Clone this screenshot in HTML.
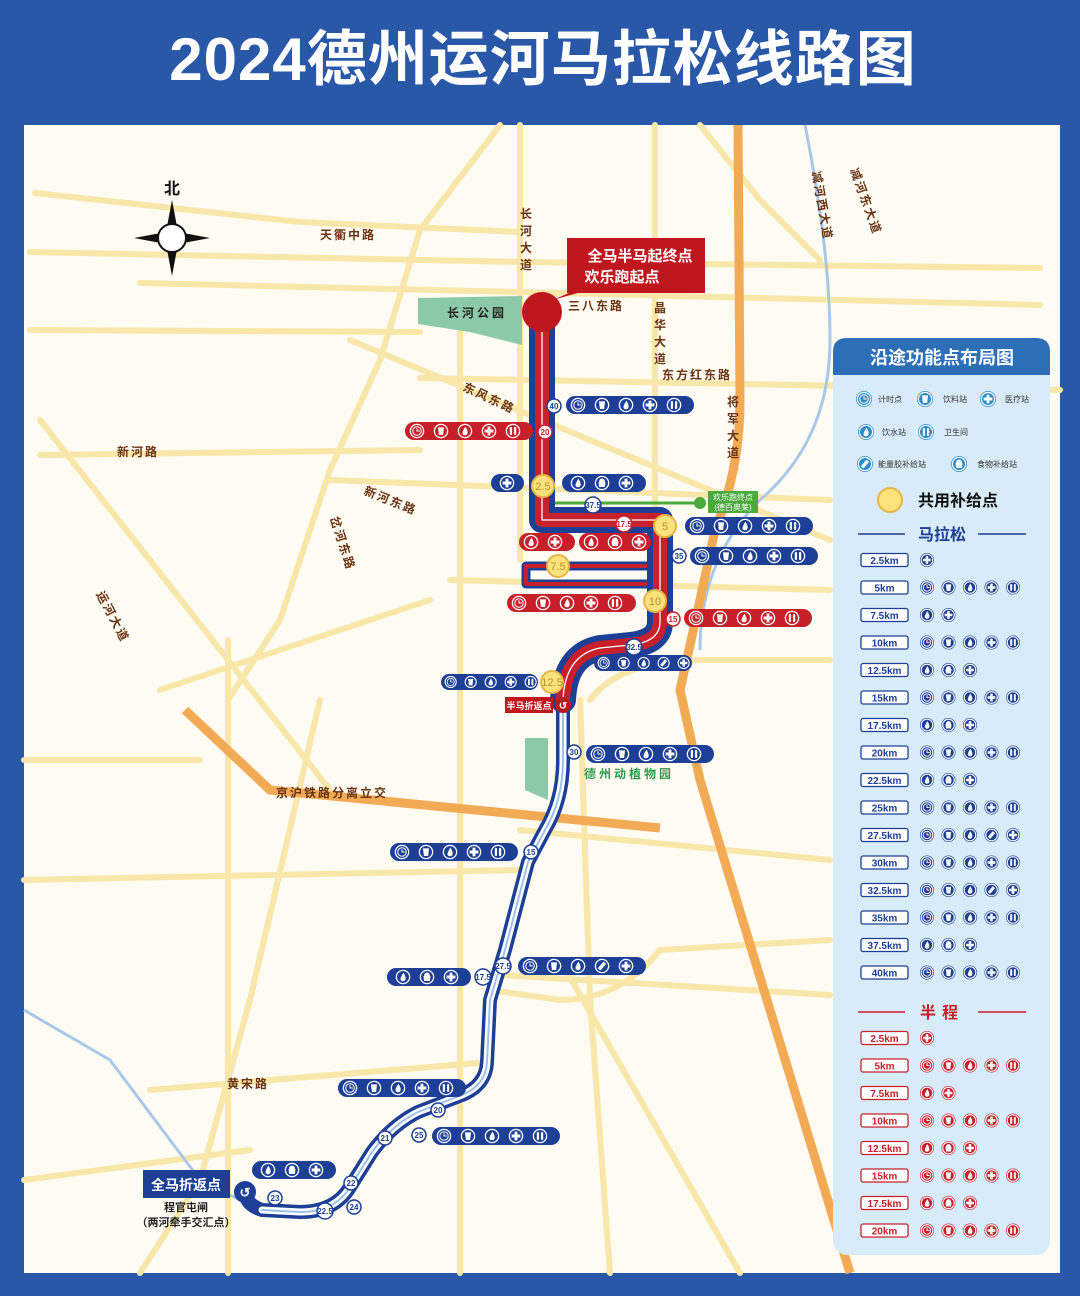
<!DOCTYPE html>
<html><head><meta charset="utf-8"><style>
html,body{margin:0;padding:0;background:#2a58a8;}
svg{display:block}
text{font-family:"Liberation Sans","Noto Sans CJK SC",sans-serif;}
.rd{fill:#6a3312;font-weight:bold;font-size:12px;letter-spacing:2px}
.km{font-size:8px;fill:#1d3f95;text-anchor:middle;font-weight:bold}
.lk{font-size:10px;text-anchor:middle;font-weight:bold}
</style></head><body>
<svg width="1080" height="1296" viewBox="0 0 1080 1296" xmlns="http://www.w3.org/2000/svg">
<defs>
<symbol id="clock" viewBox="-10 -10 20 20"><circle r="8.3" fill="none" stroke="#fff" stroke-width="1.6"/><circle r="5.3" fill="none" stroke="#fff" stroke-width="1.3"/><path d="M0,-3.5V0H3.5" fill="none" stroke="#fff" stroke-width="1.3"/></symbol>
<symbol id="cup" viewBox="-10 -10 20 20"><circle r="8.3" fill="none" stroke="#fff" stroke-width="1.6"/><path d="M-3.8,-4.5H3.8L2.6,5H-2.6Z" fill="#fff"/></symbol>
<symbol id="drop" viewBox="-10 -10 20 20"><circle r="8.3" fill="none" stroke="#fff" stroke-width="1.6"/><path d="M0.5,-5.5Q4,0 3.2,2.8A3.3,3.3 0 0 1 -3.2,2.8Q-3,0 0.5,-5.5Z" fill="#fff"/></symbol>
<symbol id="plus" viewBox="-10 -10 20 20"><circle r="8.3" fill="none" stroke="#fff" stroke-width="1.6"/><path d="M-1.8,-5.5H1.8V-1.8H5.5V1.8H1.8V5.5H-1.8V1.8H-5.5V-1.8H-1.8Z" fill="#fff"/></symbol>
<symbol id="wc" viewBox="-10 -10 20 20"><circle r="8.3" fill="none" stroke="#fff" stroke-width="1.6"/><rect x="-4" y="-5" width="2.8" height="10" rx="1.2" fill="#fff"/><rect x="1.2" y="-5" width="2.8" height="10" rx="1.2" fill="#fff"/></symbol>
<symbol id="food" viewBox="-10 -10 20 20"><circle r="8.3" fill="none" stroke="#fff" stroke-width="1.6"/><path d="M-4.5,-1H4.5L3.5,5H-3.5Z" fill="#fff"/><circle cy="-2" r="3.6" fill="#fff"/></symbol>
<symbol id="gel" viewBox="-10 -10 20 20"><circle r="8.3" fill="none" stroke="#fff" stroke-width="1.6"/><rect x="-2.2" y="-5.5" width="4.4" height="11" rx="1" fill="#fff" transform="rotate(40)"/></symbol>
<symbol id="PF" viewBox="0 0 120 16"><use href="#clock" x="0" width="16" height="16"/><use href="#cup" x="24" width="16" height="16"/><use href="#drop" x="48" width="16" height="16"/><use href="#plus" x="72" width="16" height="16"/><use href="#wc" x="96" width="16" height="16"/></symbol>
<symbol id="PG" viewBox="0 0 120 16"><use href="#clock" x="0" width="16" height="16"/><use href="#cup" x="24" width="16" height="16"/><use href="#drop" x="48" width="16" height="16"/><use href="#gel" x="72" width="16" height="16"/><use href="#plus" x="96" width="16" height="16"/></symbol>
<symbol id="PB" viewBox="0 0 120 16"><use href="#drop" x="0" width="16" height="16"/><use href="#food" x="24" width="16" height="16"/><use href="#plus" x="48" width="16" height="16"/></symbol>
<symbol id="PA" viewBox="0 0 120 16"><use href="#drop" x="0" width="16" height="16"/><use href="#plus" x="24" width="16" height="16"/></symbol>
<symbol id="LF" viewBox="0 0 102 16"><g fill="currentColor"><circle cx="7" cy="8" r="7"/><circle cx="28.5" cy="8" r="7"/><circle cx="50" cy="8" r="7"/><circle cx="71.5" cy="8" r="7"/><circle cx="93" cy="8" r="7"/></g><use href="#clock" x="0" y="1" width="14" height="14"/><use href="#cup" x="21.5" y="1" width="14" height="14"/><use href="#drop" x="43" y="1" width="14" height="14"/><use href="#plus" x="64.5" y="1" width="14" height="14"/><use href="#wc" x="86" y="1" width="14" height="14"/></symbol>
<symbol id="LG" viewBox="0 0 102 16"><g fill="currentColor"><circle cx="7" cy="8" r="7"/><circle cx="28.5" cy="8" r="7"/><circle cx="50" cy="8" r="7"/><circle cx="71.5" cy="8" r="7"/><circle cx="93" cy="8" r="7"/></g><use href="#clock" x="0" y="1" width="14" height="14"/><use href="#cup" x="21.5" y="1" width="14" height="14"/><use href="#drop" x="43" y="1" width="14" height="14"/><use href="#gel" x="64.5" y="1" width="14" height="14"/><use href="#plus" x="86" y="1" width="14" height="14"/></symbol>
<symbol id="LB" viewBox="0 0 102 16"><g fill="currentColor"><circle cx="7" cy="8" r="7"/><circle cx="28.5" cy="8" r="7"/><circle cx="50" cy="8" r="7"/></g><use href="#drop" x="0" y="1" width="14" height="14"/><use href="#food" x="21.5" y="1" width="14" height="14"/><use href="#plus" x="43" y="1" width="14" height="14"/></symbol>
<symbol id="LA" viewBox="0 0 102 16"><g fill="currentColor"><circle cx="7" cy="8" r="7"/><circle cx="28.5" cy="8" r="7"/></g><use href="#drop" x="0" y="1" width="14" height="14"/><use href="#plus" x="21.5" y="1" width="14" height="14"/></symbol>
<symbol id="LP" viewBox="0 0 102 16"><circle cx="7" cy="8" r="7" fill="currentColor"/><use href="#plus" x="0" y="1" width="14" height="14"/></symbol>
</defs>

<rect width="1080" height="1296" fill="#2a58a8"/>
<text x="543" y="80" text-anchor="middle" fill="#fff" font-size="60" font-weight="bold" letter-spacing="1">2024德州运河马拉松线路图</text>
<rect x="24" y="125" width="1036" height="1148" fill="#fdfbf2"/>

<g fill="none" stroke="#f8e7a8" stroke-width="6" stroke-linecap="round">
<path d="M35,193 L300,222 L520,232"/>
<path d="M30,252 L520,262 L1040,268"/>
<path d="M140,283 L520,292 L1040,305"/>
<path d="M30,330 L420,332"/>
<path d="M420,378 L1060,390"/>
<path d="M350,340 L830,540"/>
<path d="M40,455 L420,450"/>
<path d="M330,480 L830,500"/>
<path d="M520,125 V560"/>
<path d="M460,330 V1273"/>
<path d="M655,125 V600"/>
<path d="M500,125 L420,230 L380,360 L330,470 L280,620 L228,700"/>
<path d="M40,420 L330,790"/>
<path d="M228,640 V1273"/>
<path d="M24,880 L520,870"/>
<path d="M520,830 L830,860"/>
<path d="M150,1090 L490,1062"/>
<path d="M24,1180 L250,1150"/>
<path d="M500,975 L830,995"/>
<path d="M560,960 L740,1273"/>
<path d="M160,690 L430,600"/>
<path d="M450,580 L830,590"/>
<path d="M590,700 Q620,660 700,660 L830,660"/>
<path d="M24,760 L200,760"/>
<path d="M700,125 L760,200 L820,260"/>
<path d="M490,990 L560,1000 Q620,1000 660,950 L830,940"/>
<path d="M140,1273 L200,1180 L250,1000 L320,700"/>
<path d="M580,700 L590,1000 L610,1273"/>
</g>
<path d="M805,125 Q830,250 830,340 Q830,440 760,500 Q700,560 700,650" fill="none" stroke="#a9c8e8" stroke-width="3"/>
<path d="M24,1010 L110,1060 L200,1180 L240,1200" fill="none" stroke="#a9c8e8" stroke-width="3"/>
<path d="M738,125 L740,400 Q740,470 715,530 L700,600 L680,690 L700,780 L850,1273" fill="none" stroke="#f2aa55" stroke-width="9"/>
<path d="M185,710 L270,790 L660,828" fill="none" stroke="#f2aa55" stroke-width="9"/>
<path d="M418,298 L522,296 L522,345 L470,332 L418,324Z" fill="#8cc9a6"/>
<path d="M525,738 L548,738 L548,800 L525,790Z" fill="#8cc9a6"/>

<text class="rd" x="320" y="239">天衢中路</text>
<g class="rd" text-anchor="middle"><text x="527" y="218">长</text><text x="527" y="235">河</text><text x="527" y="252">大</text><text x="527" y="269">道</text></g>
<text class="rd" x="568" y="310">三八东路</text>
<text x="447" y="317" font-size="12" font-weight="bold" fill="#222" letter-spacing="3">长河公园</text>
<g class="rd" text-anchor="middle"><text x="661" y="312">晶</text><text x="661" y="329">华</text><text x="661" y="346">大</text><text x="661" y="363">道</text></g>
<text class="rd" x="662" y="379">东方红东路</text>
<g class="rd" text-anchor="middle"><text x="734" y="406">将</text><text x="734" y="423">军</text><text x="734" y="440">大</text><text x="734" y="457">道</text></g>
<text class="rd" x="462" y="390" transform="rotate(25 462 390)">东风东路</text>
<text class="rd" x="117" y="456">新河路</text>
<text class="rd" x="363" y="494" transform="rotate(22 363 494)">新河东路</text>
<text class="rd" x="330" y="518" transform="rotate(72 330 518)">岔河东路</text>
<text class="rd" x="96" y="594" transform="rotate(62 96 594)">运河大道</text>
<text class="rd" x="276" y="797">京沪铁路分离立交</text>
<text class="rd" x="227" y="1088">黄宋路</text>
<text x="584" y="778" font-size="12" font-weight="bold" fill="#2f9a4a" letter-spacing="3">德州动植物园</text>
<text class="rd" x="812" y="172" transform="rotate(80 812 172)">减河西大道</text>
<text class="rd" x="850" y="170" transform="rotate(70 850 170)">减河东大道</text>

<text x="172" y="194" text-anchor="middle" font-size="16" font-weight="bold" fill="#111">北</text>
<g transform="translate(172,238)">
<path d="M0,-38 L6,-6 L38,0 L6,6 L0,38 L-6,6 L-38,0 L-6,-6Z" fill="#111"/>
<circle r="14" fill="#fff" stroke="#111" stroke-width="2"/>
</g>

<path d="M553,330 L553,503 L700,503" fill="none" stroke="#4aaa3c" stroke-width="3"/>
<circle cx="700" cy="503" r="6" fill="#4aaa3c"/>
<rect x="708" y="491" width="50" height="22" fill="#4aaa3c"/>
<text x="733" y="500" font-size="8" fill="#fff" text-anchor="middle">欢乐跑终点</text>
<text x="733" y="510" font-size="8" fill="#fff" text-anchor="middle">(德百奥莱)</text>

<g fill="none" stroke-linejoin="round" stroke-linecap="round">
<path d="M563,690 L563,760 Q563,800 545,830 L528,862 L505,950 L490,1000 L487,1062 Q486,1085 462,1095 L418,1112 Q392,1125 372,1152 L350,1187 Q335,1212 300,1212 L262,1210 Q246,1205 245,1192" stroke="#1d3f95" stroke-width="14"/>
<path d="M563,690 L563,760 Q563,800 545,830 L528,862 L505,950 L490,1000 L487,1062 Q486,1085 462,1095 L418,1112 Q392,1125 372,1152 L350,1187 Q335,1212 300,1212 L262,1210" stroke="#fff" stroke-width="7"/>
<path d="M563,690 L563,760 Q563,800 545,830 L528,862 L505,950 L490,1000 L487,1062 Q486,1085 462,1095 L418,1112 Q392,1125 372,1152 L350,1187 Q335,1212 300,1212 L262,1210" stroke="#9fc0e8" stroke-width="2"/>
<path d="M660,566 L526,566 L526,584 L660,584" stroke="#1d3f95" stroke-width="9" stroke-linecap="butt"/>
<path d="M660,566 L526,566 L526,584 L660,584" stroke="#c8202a" stroke-width="4" stroke-linecap="butt"/>
<path d="M542,312 L542,520 L660,520 L660,622 Q660,642 630,645 L600,648 Q565,655 563,700" stroke="#1d3f95" stroke-width="26"/>
<path d="M542,312 L542,520 L660,520 L660,622 Q660,642 630,645 L600,648 Q565,655 563,700" stroke="#c8202a" stroke-width="14"/>
<path d="M542,312 L542,520 L660,520 L660,622 Q660,642 630,645 L600,648 Q565,655 563,700" stroke="#fff" stroke-width="1.3"/>
</g>

<path d="M553,300 L580,288 L595,288Z" fill="#c0161d"/>
<rect x="567" y="238" width="138" height="55" fill="#c0161d"/>
<text x="640" y="261" text-anchor="middle" font-size="15" font-weight="bold" fill="#fff">全马半马起终点</text>
<text x="622" y="282" text-anchor="middle" font-size="15" font-weight="bold" fill="#fff">欢乐跑起点</text>
<circle cx="542" cy="312" r="20" fill="#c0161d"/>

<rect x="505" y="697" width="48" height="16" fill="#c0161d"/>
<text x="529" y="709" text-anchor="middle" font-size="9" fill="#fff" font-weight="bold">半马折返点</text>
<circle cx="563" cy="705" r="8" fill="#c0161d"/>
<text x="563" y="709" text-anchor="middle" font-size="10" fill="#fff" font-weight="bold">↺</text>
<rect x="143" y="1170" width="87" height="28" fill="#1d3f95"/>
<text x="186" y="1190" text-anchor="middle" font-size="14" font-weight="bold" fill="#fff">全马折返点</text>
<text x="186" y="1211" text-anchor="middle" font-size="11" font-weight="bold" fill="#222">程官屯闸</text>
<text x="186" y="1226" text-anchor="middle" font-size="11" font-weight="bold" fill="#222">（两河牵手交汇点）</text>
<circle cx="245" cy="1192" r="11" fill="#1d3f95"/>
<text x="245" y="1197" text-anchor="middle" font-size="13" fill="#fff" font-weight="bold">↺</text>

<g fill="#fff" stroke="#1d3f95" stroke-width="1.5">
<circle cx="554" cy="406" r="7"/><circle cx="545" cy="432" r="7" stroke="#c8202a"/><circle cx="593" cy="505" r="8"/><circle cx="624" cy="524" r="8" stroke="#c8202a"/><circle cx="679" cy="556" r="7"/><circle cx="673" cy="619" r="7" stroke="#c8202a"/><circle cx="634" cy="647" r="8"/><circle cx="574" cy="752" r="7"/><circle cx="531" cy="852" r="7"/><circle cx="503" cy="966" r="8"/><circle cx="483" cy="977" r="8"/><circle cx="438" cy="1110" r="7"/><circle cx="385" cy="1138" r="7"/><circle cx="419" cy="1135" r="7"/><circle cx="351" cy="1183" r="7"/><circle cx="275" cy="1198" r="7"/><circle cx="325" cy="1211" r="8"/><circle cx="354" cy="1207" r="7"/>
</g>
<g class="km">
<text x="554" y="409">40</text><text x="545" y="435" fill="#c8202a">20</text><text x="593" y="508">37.5</text><text x="624" y="527" fill="#c8202a">17.5</text><text x="679" y="559">35</text><text x="673" y="622" fill="#c8202a">15</text><text x="634" y="650">32.5</text><text x="574" y="755">30</text><text x="531" y="855">15</text><text x="503" y="969">27.5</text><text x="483" y="980">17.5</text><text x="438" y="1113">20</text><text x="385" y="1141">21</text><text x="419" y="1138">25</text><text x="351" y="1186">22</text><text x="275" y="1201">23</text><text x="325" y="1214">22.5</text><text x="354" y="1210">24</text>
</g>
<g fill="#fbe27a" stroke="#e6b548" stroke-width="2">
<circle cx="543" cy="486" r="11"/><circle cx="665" cy="526" r="11"/><circle cx="558" cy="566" r="11"/><circle cx="655" cy="601" r="11"/><circle cx="552" cy="682" r="11"/>
</g>
<g font-size="11" fill="#b8902a" text-anchor="middle">
<text x="543" y="490">2.5</text><text x="665" y="530">5</text><text x="558" y="570">7.5</text><text x="655" y="605">10</text><text x="552" y="686">12.5</text>
</g>

<g>
<rect x="566" y="396" width="128" height="18" rx="9" fill="#1d3f95"/><use href="#PF" x="570" y="397" width="120" height="16"/>
<rect x="405" y="422" width="128" height="18" rx="9" fill="#c8202a"/><use href="#PF" x="409" y="423" width="120" height="16"/>
<rect x="491" y="474" width="33" height="18" rx="9" fill="#1d3f95"/><use href="#plus" x="499" y="475" width="16" height="16"/>
<rect x="562" y="474" width="84" height="18" rx="9" fill="#1d3f95"/><use href="#PB" x="570" y="475" width="120" height="16"/>
<rect x="685" y="517" width="128" height="18" rx="9" fill="#1d3f95"/><use href="#PF" x="689" y="518" width="120" height="16"/>
<rect x="519" y="533" width="56" height="18" rx="9" fill="#c8202a"/><use href="#PA" x="523" y="534" width="120" height="16"/>
<rect x="579" y="533" width="72" height="18" rx="9" fill="#c8202a"/><use href="#PB" x="583" y="534" width="120" height="16"/>
<rect x="690" y="547" width="128" height="18" rx="9" fill="#1d3f95"/><use href="#PF" x="694" y="548" width="120" height="16"/>
<rect x="507" y="594" width="129" height="18" rx="9" fill="#c8202a"/><use href="#PF" x="511" y="595" width="120" height="16"/>
<rect x="684" y="609" width="128" height="18" rx="9" fill="#c8202a"/><use href="#PF" x="688" y="610" width="120" height="16"/>
<rect x="594" y="655" width="98" height="16" rx="8" fill="#1d3f95"/><use href="#PG" x="597" y="656" width="100" height="14"/>
<rect x="441" y="674" width="97" height="16" rx="8" fill="#1d3f95"/><use href="#PF" x="444" y="675" width="100" height="14"/>
<rect x="586" y="745" width="128" height="18" rx="9" fill="#1d3f95"/><use href="#PF" x="590" y="746" width="120" height="16"/>
<rect x="390" y="843" width="128" height="18" rx="9" fill="#1d3f95"/><use href="#PF" x="394" y="844" width="120" height="16"/>
<rect x="387" y="968" width="84" height="18" rx="9" fill="#1d3f95"/><use href="#PB" x="395" y="969" width="120" height="16"/>
<rect x="518" y="957" width="128" height="18" rx="9" fill="#1d3f95"/><use href="#PG" x="522" y="958" width="120" height="16"/>
<rect x="338" y="1079" width="128" height="18" rx="9" fill="#1d3f95"/><use href="#PF" x="342" y="1080" width="120" height="16"/>
<rect x="432" y="1127" width="128" height="18" rx="9" fill="#1d3f95"/><use href="#PF" x="436" y="1128" width="120" height="16"/>
<rect x="252" y="1161" width="84" height="18" rx="9" fill="#1d3f95"/><use href="#PB" x="260" y="1162" width="120" height="16"/>
</g>

<rect x="833" y="338" width="217" height="917" rx="14" fill="#d8ebf8"/>
<path d="M833,375 V352 Q833,338 847,338 H1036 Q1050,338 1050,352 V375Z" fill="#2d6fb7"/>
<text x="942" y="364" text-anchor="middle" font-size="18" font-weight="bold" fill="#fff">沿途功能点布局图</text>
<g fill="#2d8ac8">
<circle cx="864" cy="399" r="8"/><circle cx="925" cy="399" r="8"/><circle cx="988" cy="399" r="8"/>
<circle cx="866" cy="432" r="8"/><circle cx="926" cy="432" r="8"/>
<circle cx="865" cy="464" r="8"/><circle cx="959" cy="464" r="8"/>
</g>
<use href="#clock" x="856" y="391" width="16" height="16"/>
<use href="#cup" x="917" y="391" width="16" height="16"/>
<use href="#plus" x="980" y="391" width="16" height="16"/>
<use href="#drop" x="858" y="424" width="16" height="16"/>
<use href="#wc" x="918" y="424" width="16" height="16"/>
<use href="#gel" x="857" y="456" width="16" height="16"/>
<use href="#food" x="951" y="456" width="16" height="16"/>
<g font-size="8" fill="#333">
<text x="878" y="402">计时点</text><text x="943" y="402">饮料站</text><text x="1005" y="402">医疗站</text>
<text x="882" y="435">饮水站</text><text x="944" y="435">卫生间</text>
<text x="878" y="467">能量胶补给站</text><text x="977" y="467">食物补给站</text>
</g>
<circle cx="890" cy="500" r="12" fill="#fbe27a" stroke="#e6b548" stroke-width="2"/>
<text x="918" y="506" font-size="16" font-weight="bold" fill="#111">共用补给点</text>
<path d="M858,534H905M978,534H1026" stroke="#1d3f95" stroke-width="1.5"/>
<text x="942" y="540" text-anchor="middle" font-size="16" font-weight="bold" fill="#1d3f95">马拉松</text>
<path d="M858,1012H905M978,1012H1026" stroke="#c8202a" stroke-width="1.5"/>
<text x="942" y="1018" text-anchor="middle" font-size="16" font-weight="bold" fill="#c8202a" letter-spacing="6">半程</text>

<g fill="#fff" stroke="#1d3f95" stroke-width="1.3">
<rect x="861" y="553.5" width="47" height="13" rx="2"/><rect x="861" y="581" width="47" height="13" rx="2"/><rect x="861" y="608.5" width="47" height="13" rx="2"/><rect x="861" y="636" width="47" height="13" rx="2"/><rect x="861" y="663.5" width="47" height="13" rx="2"/><rect x="861" y="691" width="47" height="13" rx="2"/><rect x="861" y="718.5" width="47" height="13" rx="2"/><rect x="861" y="746" width="47" height="13" rx="2"/><rect x="861" y="773.5" width="47" height="13" rx="2"/><rect x="861" y="801" width="47" height="13" rx="2"/><rect x="861" y="828.5" width="47" height="13" rx="2"/><rect x="861" y="856" width="47" height="13" rx="2"/><rect x="861" y="883.5" width="47" height="13" rx="2"/><rect x="861" y="911" width="47" height="13" rx="2"/><rect x="861" y="938.5" width="47" height="13" rx="2"/><rect x="861" y="966" width="47" height="13" rx="2"/>
</g>
<g fill="#fff" stroke="#c8202a" stroke-width="1.3">
<rect x="861" y="1031.5" width="47" height="13" rx="2"/><rect x="861" y="1059" width="47" height="13" rx="2"/><rect x="861" y="1086.5" width="47" height="13" rx="2"/><rect x="861" y="1114" width="47" height="13" rx="2"/><rect x="861" y="1141.5" width="47" height="13" rx="2"/><rect x="861" y="1169" width="47" height="13" rx="2"/><rect x="861" y="1196.5" width="47" height="13" rx="2"/><rect x="861" y="1224" width="47" height="13" rx="2"/>
</g>
<g class="lk" fill="#1d3f95">
<text x="884.5" y="564">2.5km</text><text x="884.5" y="591.5">5km</text><text x="884.5" y="619">7.5km</text><text x="884.5" y="646.5">10km</text><text x="884.5" y="674">12.5km</text><text x="884.5" y="701.5">15km</text><text x="884.5" y="729">17.5km</text><text x="884.5" y="756.5">20km</text><text x="884.5" y="784">22.5km</text><text x="884.5" y="811.5">25km</text><text x="884.5" y="839">27.5km</text><text x="884.5" y="866.5">30km</text><text x="884.5" y="894">32.5km</text><text x="884.5" y="921.5">35km</text><text x="884.5" y="949">37.5km</text><text x="884.5" y="976.5">40km</text>
</g>
<g class="lk" fill="#c8202a">
<text x="884.5" y="1042">2.5km</text><text x="884.5" y="1069.5">5km</text><text x="884.5" y="1097">7.5km</text><text x="884.5" y="1124.5">10km</text><text x="884.5" y="1152">12.5km</text><text x="884.5" y="1179.5">15km</text><text x="884.5" y="1207">17.5km</text><text x="884.5" y="1234.5">20km</text>
</g>
<g style="color:#1d3f95">
<use href="#LP" x="920" y="552" width="102" height="16"/>
<use href="#LF" x="920" y="579.5" width="102" height="16"/>
<use href="#LA" x="920" y="607" width="102" height="16"/>
<use href="#LF" x="920" y="634.5" width="102" height="16"/>
<use href="#LB" x="920" y="662" width="102" height="16"/>
<use href="#LF" x="920" y="689.5" width="102" height="16"/>
<use href="#LB" x="920" y="717" width="102" height="16"/>
<use href="#LF" x="920" y="744.5" width="102" height="16"/>
<use href="#LB" x="920" y="772" width="102" height="16"/>
<use href="#LF" x="920" y="799.5" width="102" height="16"/>
<use href="#LG" x="920" y="827" width="102" height="16"/>
<use href="#LF" x="920" y="854.5" width="102" height="16"/>
<use href="#LG" x="920" y="882" width="102" height="16"/>
<use href="#LF" x="920" y="909.5" width="102" height="16"/>
<use href="#LB" x="920" y="937" width="102" height="16"/>
<use href="#LF" x="920" y="964.5" width="102" height="16"/>
</g>
<g style="color:#c8202a">
<use href="#LP" x="920" y="1030" width="102" height="16"/>
<use href="#LF" x="920" y="1057.5" width="102" height="16"/>
<use href="#LA" x="920" y="1085" width="102" height="16"/>
<use href="#LF" x="920" y="1112.5" width="102" height="16"/>
<use href="#LB" x="920" y="1140" width="102" height="16"/>
<use href="#LF" x="920" y="1167.5" width="102" height="16"/>
<use href="#LB" x="920" y="1195" width="102" height="16"/>
<use href="#LF" x="920" y="1222.5" width="102" height="16"/>
</g>
</svg>
</body></html>
